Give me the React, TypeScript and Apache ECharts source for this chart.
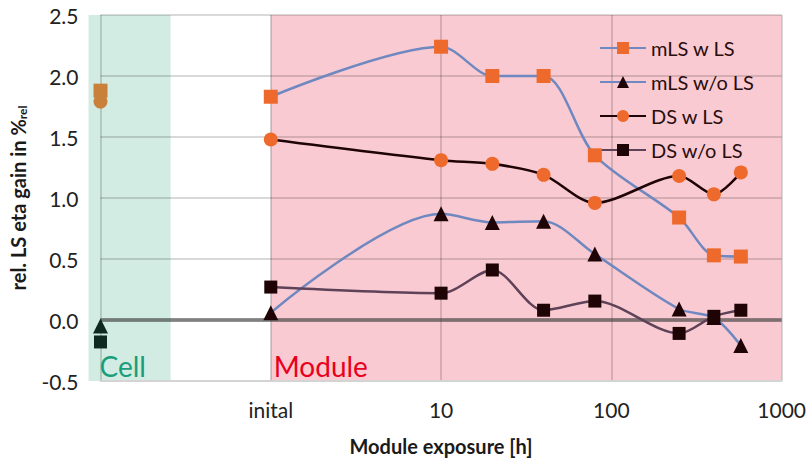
import React, { useEffect, useRef } from "react";
import * as echarts from "echarts";

// ---- data ----
const exposureHours = [1, 10, 20, 40, 80, 250, 400, 576];
const mLSwLS = [1.83, 2.24, 2.0, 2.0, 1.35, 0.84, 0.53, 0.52];
const mLSwoLS = [0.06, 0.87, 0.8, 0.81, 0.54, 0.09, 0.02, -0.21];
const DSwLS = [1.48, 1.31, 1.28, 1.19, 0.96, 1.18, 1.03, 1.21];
const DSwoLS = [0.27, 0.22, 0.41, 0.08, 0.155, -0.11, 0.03, 0.08];
const seriesNames = ["mLS w LS", "mLS w/o LS", "DS w LS", "DS w/o LS"];
const cellX = 0.1;
const cellValues = [1.88, -0.05, 1.79, -0.18];
const xTickLabels: Record<string, string> = { "1": "inital", "10": "10", "100": "100", "1000": "1000" };
const yMin = -0.5;
const yMax = 2.5;
const yStep = 0.5;
const xMin = 0.1;
const xMax = 1000;
const cellBand = [0.085, 0.258];
const moduleBand = [1, 1000];

const FONT = "Lato, 'Open Sans', sans-serif";
const ORANGE = "#EE6A2C";
const BLUE = "#7088C0";
const DARK = "#1E0404";
const PURPLE = "#5E4258";
const CELL_ORANGE = "#C9803A";
const CELL_DARK = "#0E2A20";

const seriesStyles = [
  { symbol: "rect", symbolSize: 14, line: BLUE, marker: ORANGE, cell: CELL_ORANGE },
  { symbol: "triangle", symbolSize: 15, line: BLUE, marker: DARK, cell: CELL_DARK },
  { symbol: "circle", symbolSize: 14, line: DARK, marker: ORANGE, cell: CELL_ORANGE },
  { symbol: "rect", symbolSize: 13, line: PURPLE, marker: DARK, cell: CELL_DARK },
];
const seriesValues = [mLSwLS, mLSwoLS, DSwLS, DSwoLS];

export default function App() {
  const ref = useRef<HTMLDivElement>(null);
  useEffect(() => {
    if (!ref.current) return;
    const chart = echarts.init(ref.current, undefined, { renderer: "svg" });
    const lineSeries: any[] = seriesNames.map((name, i) => ({
      name,
      type: "line",
      smooth: 0.3,
      data: exposureHours.map((x, j) => [x, seriesValues[i][j]]),
      symbol: seriesStyles[i].symbol,
      symbolSize: seriesStyles[i].symbolSize,
      showAllSymbol: true,
      lineStyle: { color: seriesStyles[i].line, width: 2.5 },
      itemStyle: { color: seriesStyles[i].marker },
      z: 5 + i,
    }));
    const cellSeries = {
      name: "Cell",
      type: "scatter",
      data: cellValues.map((v, i) => ({
        value: [cellX, v],
        symbol: seriesStyles[i].symbol,
        symbolSize: seriesStyles[i].symbolSize,
        itemStyle: { color: seriesStyles[i].cell, opacity: 1 },
      })),
      z: 5,
    };
    const zeroSeries = {
      name: "zero",
      type: "line",
      data: [],
      markLine: {
        silent: true,
        symbol: "none",
        label: { show: false },
        lineStyle: { color: "rgba(70,70,70,0.6)", width: 4, type: "solid" },
        data: [{ yAxis: 0 }],
      },
      z: 3,
    };
    chart.setOption({
      animation: false,
      grid: { left: 96, right: 27, top: 15, bottom: 79 },
      legend: {
        data: seriesNames,
        orient: "vertical",
        left: 594,
        top: 33,
        itemWidth: 46,
        itemHeight: 15,
        itemGap: 14,
        textStyle: { fontFamily: FONT, fontSize: 20, color: "#2a0d0d" },
      },
      xAxis: {
        type: "log",
        logBase: 10,
        min: xMin,
        max: xMax,
        axisLine: { show: true, onZero: false, lineStyle: { color: "#d4d4d4", width: 2 } },
        axisTick: { show: false },
        splitLine: { show: true, lineStyle: { color: "rgba(0,0,0,0.15)", width: 2 } },
        axisLabel: {
          margin: 18,
          fontFamily: FONT,
          fontSize: 21,
          color: "#222",
          formatter: (v: number) => xTickLabels[String(Math.round(v))] ?? "",
        },
        name: "Module exposure [h]",
        nameLocation: "middle",
        nameGap: 55,
        nameTextStyle: { fontFamily: FONT, fontSize: 20, fontWeight: "bold", color: "#1a1a1a" },
      },
      yAxis: {
        type: "value",
        min: yMin,
        max: yMax,
        interval: yStep,
        axisLine: { show: false },
        axisTick: { show: false },
        splitLine: { show: true, lineStyle: { color: "rgba(0,0,0,0.15)", width: 2 } },
        axisLabel: {
          margin: 22,
          fontFamily: FONT,
          fontSize: 21,
          color: "#222",
          formatter: (v: number) => v.toFixed(1),
        },
        name: "rel. LS eta gain in %{sub|rel}",
        nameLocation: "middle",
        nameRotate: 90,
        nameGap: 72,
        nameTextStyle: {
          fontFamily: FONT,
          fontSize: 20,
          fontWeight: "bold",
          color: "#1a1a1a",
          rich: {
            sub: { fontFamily: FONT, fontSize: 12, fontWeight: "bold", color: "#1a1a1a", padding: [9, 0, 0, 0] },
          },
        },
      },
      series: [zeroSeries, cellSeries, ...lineSeries],
    });

    const px = (x: number, y: number) => chart.convertToPixel({ gridIndex: 0 }, [x, y]) as number[];
    const c0 = px(cellBand[0], yMax);
    const c1 = px(cellBand[1], yMin);
    const m0 = px(moduleBand[0], yMax);
    const m1 = px(moduleBand[1], yMin);
    chart.setOption({
      graphic: [
        {
          type: "rect",
          silent: true,
          z: -10,
          shape: { x: m0[0], y: m0[1], width: m1[0] - m0[0], height: m1[1] - m0[1] },
          style: { fill: "#F9CAD2" },
        },
        {
          type: "rect",
          silent: true,
          z: -10,
          shape: { x: c0[0], y: c0[1], width: c1[0] - c0[0], height: c1[1] - c0[1] },
          style: { fill: "#D2ECE3" },
        },
        {
          type: "text",
          silent: true,
          z: 101,
          x: c0[0] + 11,
          y: c1[1] - 1,
          style: { text: "Cell", fill: "#1A9E7A", font: `28px ${FONT}`, textVerticalAlign: "bottom" },
        },
        {
          type: "text",
          silent: true,
          z: 101,
          x: m0[0] + 3,
          y: m1[1] - 1,
          style: { text: "Module", fill: "#E8001C", font: `28px ${FONT}`, textVerticalAlign: "bottom" },
        },
      ],
    });
    return () => chart.dispose();
  }, []);
  return (
    <div
      ref={ref}
      style={{ position: "absolute", left: 0, top: 0, width: 809, height: 461 }}
    />
  );
}
